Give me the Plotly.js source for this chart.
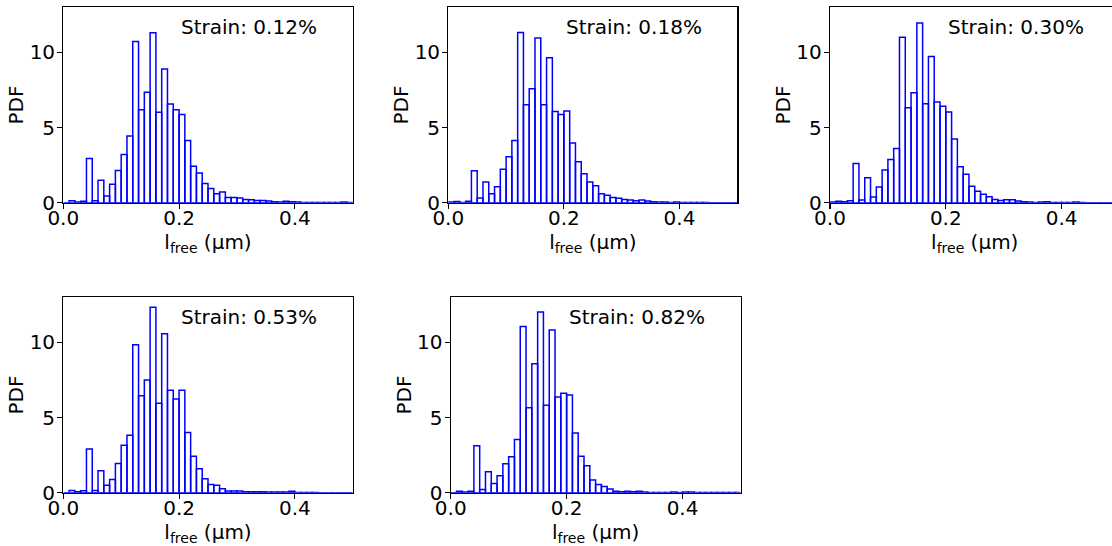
<!DOCTYPE html>
<html>
<head>
<meta charset="utf-8">
<script src="https://cdn.plot.ly/plotly-3.0.1.min.js"></script>
<style>
html,body{margin:0;padding:0;background:#fff;overflow:hidden;width:1112px;height:546px;}
#chart{width:1122px;height:546px;}
</style>
</head>
<body>
<div id="chart"></div>
<script>
// Histogram bin centres (bin width 0.01 µm)
const binCenters = [0.005,0.015,0.025,0.035,0.045,0.055,0.065,0.075,0.085,0.095,
  0.105,0.115,0.125,0.135,0.145,0.155,0.165,0.175,0.185,0.195,
  0.205,0.215,0.225,0.235,0.245,0.255,0.265,0.275,0.285,0.295,
  0.305,0.315,0.325,0.335,0.345,0.355,0.365,0.375,0.385,0.395,
  0.405,0.415,0.425,0.435,0.445,0.455,0.465,0.475,0.485,0.495];
const binWidth = 0.01;

const strainLabels = ["Strain: 0.12%", "Strain: 0.18%", "Strain: 0.30%", "Strain: 0.53%", "Strain: 0.82%"];

const pdf012 = [0,0.13,0.04,0.09,2.94,0.13,1.50,0.44,1.22,2.14,
  3.20,4.44,10.72,6.19,7.34,11.30,6.01,8.89,6.56,6.19,
  5.86,4.13,2.43,1.97,1.28,0.95,0.60,0.71,0.35,0.35,
  0.31,0.22,0.20,0.15,0.15,0.11,0.07,0.04,0.09,0.07,
  0.04,0.02,0.02,0.02,0.02,0.02,0.02,0.02,0.04,0.02];
const pdf018 = [0.05,0.08,0.02,0.09,2.12,0.31,1.37,0.60,1.06,2.23,
  3.05,4.13,11.32,6.52,7.58,10.96,6.52,9.64,6.06,5.86,
  6.10,3.98,2.72,1.92,1.37,1.13,0.60,0.49,0.35,0.29,
  0.22,0.18,0.13,0.18,0.11,0.07,0.04,0.04,0.02,0.04,
  0.02,0.02,0.02,0.02,0.02,0,0,0,0,0];
const pdf030 = [0.04,0.09,0.07,0.13,2.61,0.18,1.66,0.38,1.04,2.17,
  2.87,3.60,11.01,6.32,7.32,11.96,6.59,9.73,6.70,6.41,
  6.03,4.24,2.39,1.90,1.10,0.77,0.57,0.40,0.22,0.15,
  0.20,0.20,0.11,0.07,0.04,0.02,0.04,0.07,0.02,0.02,
  0.02,0.02,0.04,0.02,0,0,0,0,0,0];
const pdf053 = [0,0.15,0.07,0.13,2.90,0.15,1.46,0.49,0.88,1.95,
  3.16,3.82,9.84,6.45,7.49,12.33,5.95,10.57,6.81,6.23,
  6.81,4.00,2.43,1.59,0.93,0.55,0.49,0.27,0.11,0.11,
  0.11,0.07,0.07,0.07,0.07,0.04,0.04,0.04,0.04,0.09,
  0.02,0.02,0.02,0.02,0,0,0,0,0,0];
const pdf082 = [0,0.09,0.04,0.09,3.12,0.22,1.39,0.62,1.13,1.92,
  2.39,3.54,11.05,5.66,8.58,12.02,5.81,10.83,6.37,6.61,
  6.50,3.98,2.43,1.79,0.84,0.55,0.42,0.24,0.09,0.07,
  0.09,0.07,0.09,0.04,0.02,0.02,0.02,0.02,0.04,0.02,
  0.04,0.04,0.02,0.02,0.02,0.02,0.02,0.02,0.02,0.02];

const series = [pdf012, pdf018, pdf030, pdf053, pdf082];
const xTicks = [0, 0.2, 0.4];
const yTicks = [0, 5, 10];

const W = 1122, H = 546;
// pixel boxes of each panel [left, right, top, bottom]
const boxes = [
  [63.3, 352.7, 7.3, 202.7],
  [448.3, 737.3, 7.3, 202.7],
  [830.0, 1119.5, 7.3, 202.7],
  [63.3, 352.7, 297.3, 492.7],
  [450.7, 740.5, 297.3, 492.7]
];

const font = {family: "DejaVu Sans", color: "#000"};
const traces = [];
const layout = {
  width: W, height: H,
  margin: {l: 0, r: 0, t: 0, b: 0},
  paper_bgcolor: "#fff", plot_bgcolor: "#fff",
  showlegend: false,
  bargap: 0,
  font: Object.assign({size: 20}, font),
  annotations: []
};

series.forEach((vals, i) => {
  const n = i + 1;
  const xa = n === 1 ? "x" : "x" + n;
  const ya = n === 1 ? "y" : "y" + n;
  traces.push({
    type: "bar",
    x: binCenters,
    y: vals,
    width: binWidth,
    xaxis: xa, yaxis: ya,
    marker: {color: "rgba(255,255,255,0)", line: {color: "#0000ff", width: 1.5}},
    hoverinfo: "x+y"
  });
  const b = boxes[i];
  const axCommon = {
    showgrid: false, zeroline: false,
    showline: true, mirror: true, linecolor: "#000", linewidth: 1.2,
    ticks: "outside", ticklen: 5, tickwidth: 1.1, tickcolor: "#000",
    tickfont: Object.assign({size: 20}, font)
  };
  layout["xaxis" + (n === 1 ? "" : n)] = Object.assign({}, axCommon, {
    domain: [b[0] / W, b[1] / W],
    anchor: ya,
    range: [0, 0.5],
    tickvals: xTicks,
    tickformat: ".1f",
    ticklabelstandoff: -8,
    title: {text: "l<sub>free</sub> (μm)", font: Object.assign({size: 20}, font), standoff: 4}
  });
  layout["yaxis" + (n === 1 ? "" : n)] = Object.assign({}, axCommon, {
    domain: [1 - b[3] / H, 1 - b[2] / H],
    anchor: xa,
    range: [0, 13],
    tickvals: yTicks,
    ticklabelstandoff: -2,
    title: {text: "PDF", font: Object.assign({size: 20}, font), standoff: 0}
  });
  layout.annotations.push({
    text: strainLabels[i],
    xref: xa + " domain", yref: ya + " domain",
    x: 0.4, y: 0.9, xanchor: "left", yanchor: "middle",
    showarrow: false,
    font: Object.assign({size: 20}, font)
  });
});

Plotly.newPlot("chart", traces, layout, {staticPlot: true, responsive: false});
</script>
</body>
</html>
